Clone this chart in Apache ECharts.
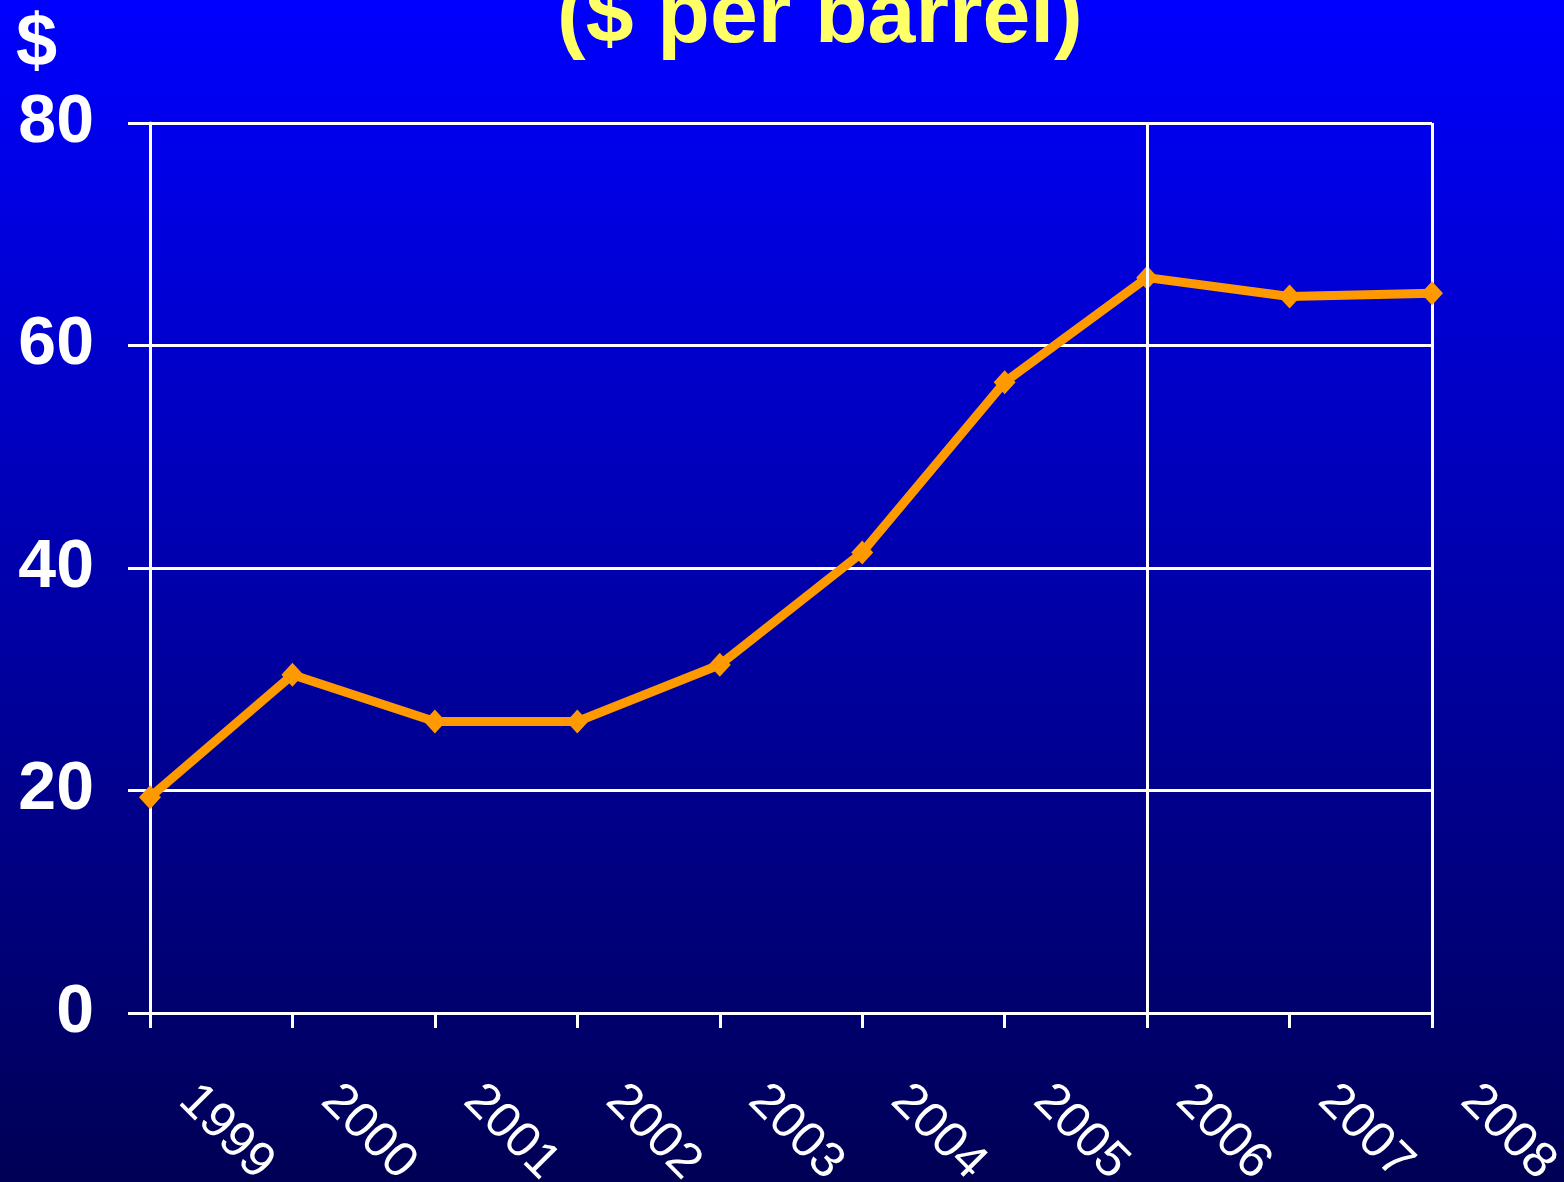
<!DOCTYPE html>
<html>
<head>
<meta charset="utf-8">
<script src="https://cdn.jsdelivr.net/npm/echarts@6/dist/echarts.min.js"></script>
<style>
html,body{margin:0;padding:0;}
#c{width:1564px;height:1182px;}
</style>
</head>
<body>
<div id="c"></div>
<script>
const years = ['1999','2000','2001','2002','2003','2004','2005','2006','2007','2008'];
const prices = [19.4, 30.4, 26.2, 26.2, 31.3, 41.4, 56.7, 66.1, 64.4, 64.7];
const yTicks = [0, 20, 40, 60, 80];
const titleText = '($ per barrel)';
const unitText = '$';
const dividerYear = '2006';

const chart = echarts.init(document.getElementById('c'));
const option = {
  backgroundColor: new echarts.graphic.LinearGradient(0, 0, 0, 1, [
    {offset: 0, color: '#0000FF'},
    {offset: 1, color: '#000055'}
  ]),
  title: [
    {
      text: titleText,
      left: 552,
      top: -30,
      itemGap: 0,
      textStyle: {color: '#FFFF66', fontFamily: 'Liberation Sans, Arial', fontWeight: 'bold', fontSize: 86}
    },
    {
      text: unitText,
      left: 11,
      top: 3,
      textStyle: {color: '#FFFFFF', fontFamily: 'Liberation Sans, Arial', fontWeight: 'bold', fontSize: 74}
    }
  ],
  grid: {left: 150, right: 132, top: 123, bottom: 169, containLabel: false, outerBoundsMode: 'none'},
  xAxis: {
    type: 'category',
    data: years,
    boundaryGap: false,
    axisLine: {show: true, lineStyle: {color: '#FFFFFF', width: 3}},
    axisTick: {show: true, length: 15, lineStyle: {color: '#FFFFFF', width: 3}},
    axisLabel: {
      color: '#FFFFFF', fontFamily: 'Liberation Sans, Arial', fontSize: 50,
      rotate: -45, interval: 0, margin: 43,
      align: 'left', verticalAlign: 'middle', padding: [0, 0, 0, 52]
    },
    splitLine: {show: true, interval: function (idx) { return idx === years.length - 1; }, lineStyle: {color: '#FFFFFF', width: 3}}
  },
  yAxis: {
    type: 'value',
    min: yTicks[0],
    max: yTicks[yTicks.length - 1],
    interval: yTicks[1] - yTicks[0],
    axisLine: {show: true, lineStyle: {color: '#FFFFFF', width: 3}},
    axisTick: {show: true, length: 22, lineStyle: {color: '#FFFFFF', width: 3}},
    axisLabel: {color: '#FFFFFF', fontFamily: 'Liberation Sans, Arial', fontWeight: 'bold', fontSize: 68, margin: 56},
    splitLine: {show: true, lineStyle: {color: '#FFFFFF', width: 3}}
  },
  series: [{
    type: 'line',
    data: prices,
    symbol: 'diamond',
    symbolSize: [22, 24],
    lineStyle: {color: '#FF9900', width: 9},
    itemStyle: {color: '#FF9900'},
    animation: false,
    markLine: {
      silent: true,
      symbol: 'none',
      label: {show: false},
      lineStyle: {color: '#FFFFFF', width: 3, type: 'solid'},
      data: [{xAxis: dividerYear}]
    }
  }]
};
chart.setOption(option);
</script>
</body>
</html>
